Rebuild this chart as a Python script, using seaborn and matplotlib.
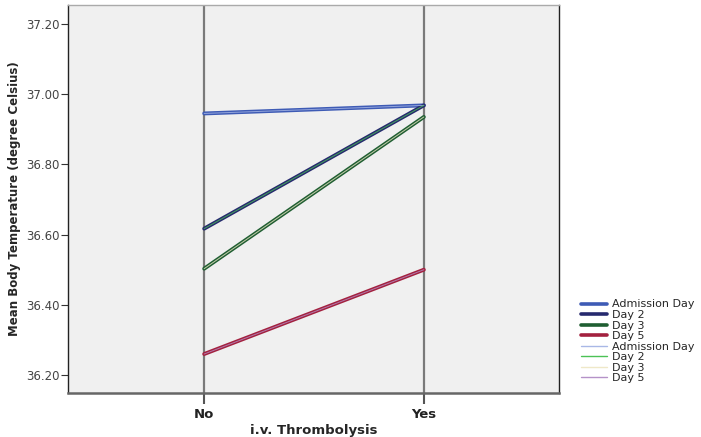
import matplotlib.pyplot as plt
import pandas as pd
import seaborn as sns

groups = ["No", "Yes"]
days = ["Admission Day", "Day 2", "Day 3", "Day 5"]
admission_day = [36.945, 36.968]
day_2 = [36.617, 36.968]
day_3 = [36.503, 36.935]
day_5 = [36.260, 36.500]

thick_colors = ["#3e5bb5", "#262a6e", "#1f5e32", "#a3213f"]
thin_colors = ["#a9b8e6", "#4cc256", "#efe8c8", "#b592c8"]

rows = []
for day, vals in zip(days, [admission_day, day_2, day_3, day_5]):
    for g, v in zip(groups, vals):
        rows.append({"thrombolysis": g, "day": day, "temp": v})
df = pd.DataFrame(rows)

sns.set_theme(style="white")
plt.rcParams['font.family'] = ['DejaVu Sans']

fig = plt.figure(figsize=(7.01, 4.37), dpi=100)
ax = fig.add_axes([0.097, 0.1007, 0.7, 0.888])
ax.set_facecolor("#f0f0f0")

# vertical reference lines at the categories
for i in range(len(groups)):
    ax.axvline(i, color="#7a7a7a", lw=1.6, zorder=1)

df["x"] = df["thrombolysis"].map({g: i for i, g in enumerate(groups)})
sns.lineplot(data=df, x="x", y="temp", hue="day", palette=thick_colors,
             lw=2.8, ax=ax, zorder=3, legend=False)
# the second set sits on top, thin
sns.lineplot(data=df, x="x", y="temp", hue="day", palette=thin_colors,
             lw=0.7, alpha=0.8, ax=ax, zorder=4, legend=False)

ax.set_xlim(-0.62, 1.614)
ax.set_ylim(36.149, 37.254)
ax.set_xticks(range(len(groups)))
ax.set_xticklabels(groups, fontweight="bold", fontsize=9.5, color="#222222")
yt = [36.2, 36.4, 36.6, 36.8, 37.0, 37.2]
ax.set_yticks(yt)
ax.set_yticklabels(["%.2f" % v for v in yt], fontsize=8.5, color="#444444")
ax.tick_params(axis="y", length=5, width=0.8, color="#333333", left=True, pad=1)
ax.tick_params(axis="x", length=8, width=1.5, color="#555555", bottom=True, pad=3)
ax.set_xlabel("i.v. Thrombolysis", fontweight="bold", fontsize=9.5, labelpad=2)
ax.set_ylabel("Mean Body Temperature (degree Celsius)", fontweight="bold",
              fontsize=8.5, labelpad=4)
for side in ["left", "bottom", "right", "top"]:
    ax.spines[side].set_color("#222222")
    ax.spines[side].set_linewidth(1.0)
ax.spines["top"].set_color("#aaaaaa")
ax.spines["bottom"].set_color("#666666")
ax.spines["bottom"].set_linewidth(1.8)

handles = []
for day, c in zip(days, thick_colors):
    handles.append(plt.Line2D([], [], color=c, lw=2.6, label=day))
for day, c in zip(days, thin_colors):
    handles.append(plt.Line2D([], [], color=c, lw=1.0, label=day))
fig.legend(handles=handles, loc="upper left", bbox_to_anchor=(0.822, 0.325),
           frameon=False, fontsize=8, handlelength=2.4, handletextpad=0.4,
           labelspacing=0.05, borderaxespad=0)

fig.savefig("out.png", dpi=100)
